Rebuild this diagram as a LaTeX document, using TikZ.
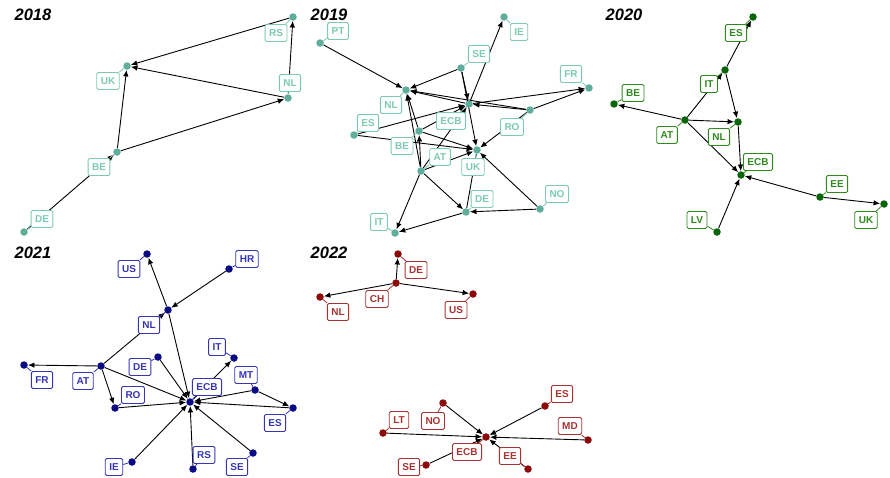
\documentclass[tikz,border=0pt]{standalone}
\usepackage{fontspec}
\setmainfont{Liberation Sans}
\usetikzlibrary{arrows.meta,backgrounds}

\definecolor{tealdot}{HTML}{5FAE9C}
\definecolor{teallab}{HTML}{7CC9B4}
\definecolor{grndot}{HTML}{0A650A}
\definecolor{grnlab}{HTML}{2F8A1E}
\definecolor{navdot}{HTML}{0A0A85}
\definecolor{navlab}{HTML}{3535B5}
\definecolor{reddot}{HTML}{8B0A0A}
\definecolor{redlab}{HTML}{A83232}

\begin{document}
\begin{tikzpicture}[x=1pt,y=-1pt,
    cdot/.style={circle,fill=#1,inner sep=0pt,minimum size=7.5pt},
    lab/.style={draw=#1,text=#1,fill=white,rounded corners=1.5pt,line width=0.9pt,
      font=\bfseries\fontsize{10}{10}\selectfont,inner xsep=4pt,inner ysep=2pt,
      text height=7.2pt,text depth=0pt,minimum height=17pt},
    lead/.style={draw=#1,line width=0.8pt},
    arr/.style={-{Latex[length=6.5pt,width=5.5pt]},line width=0.9pt},
    yr/.style={font=\bfseries\itshape\fontsize{16.5}{16.5}\selectfont}]
  \useasboundingbox (0,0) rectangle (890,477);

  % years
  \foreach \n/\t/\x/\y in {t18/2018/33/15, t19/2019/329/15, t20/2020/624/15,
                            t21/2021/33/253, t22/2022/329/253}
    \node[yr] (\n) at (\x,\y) {\t};

  % 2018
  \def\dc{tealdot}\def\lc{teallab}
  \foreach \n/\t/\x/\y/\lx/\ly in {uk18/UK/127/66/108/81, rs18/RS/293/17/276/33,
      nl18/NL/288/98/290/83, be18/BE/117/152/99/167, de18/DE/24/232/42/219}{
    \node[cdot=\dc] (\n) at (\x,\y) {};
    \node[lab=\lc] (\n-l) at (\lx,\ly) {\t};
    \draw[lead=\lc] (\n) -- (\n-l);
  }

  % 2019
  \foreach \n/\t/\x/\y/\lx/\ly in {pt19/PT/320/43/338/31, ie19/IE/504/17/519/32,
      se19/SE/461/68/479/54, fr19/FR/589/88/571/74, nl19/NL/406/90/391/105,
      ecb19/ECB/469/104/451/121, ro19/RO/530/110/512/127, es19/ES/354/135/368/123,
      be19/BE/419/131/402/146, at19/AT/421/171/440/157, uk19/UK/477/150/473/167,
      de19/DE/466/212/482/199, no19/NO/540/209/557/194, it19/IT/395/233/379/222}{
    \node[cdot=\dc] (\n) at (\x,\y) {};
    \node[lab=\lc] (\n-l) at (\lx,\ly) {\t};
    \draw[lead=\lc] (\n) -- (\n-l);
  }

  % 2020
  \def\dc{grndot}\def\lc{grnlab}
  \foreach \n/\t/\x/\y/\lx/\ly in {es20/ES/753/17/736/33, it20/IT/725/70/709/84,
      be20/BE/614/104/633/93, at20/AT/685/120/667/135, nl20/NL/738/122/719/137,
      ecb20/ECB/741/175/758/162, ee20/EE/820/197/837/184, uk20/UK/884/204/866/220,
      lv20/LV/717/232/697/220}{
    \node[cdot=\dc] (\n) at (\x,\y) {};
    \node[lab=\lc] (\n-l) at (\lx,\ly) {\t};
    \draw[lead=\lc] (\n) -- (\n-l);
  }

  % 2021
  \def\dc{navdot}\def\lc{navlab}
  \foreach \n/\t/\x/\y/\lx/\ly in {us21/US/147/254/129/269, hr21/HR/229/269/247/259,
      nl21/NL/168/310/149/325, it21/IT/234/358/217/347, de21/DE/158/357/140/367,
      fr21/FR/24/365/42/380, at21/AT/101/366/83/381, mt21/MT/255/390/246/375,
      ecb21/ECB/190/402/207/387, ro21/RO/115/408/133/395, es21/ES/293/408/275/423,
      ie21/IE/132/462/114/467, rs21/RS/193/469/204/455, se21/SE/253/453/237/467}{
    \node[cdot=\dc] (\n) at (\x,\y) {};
    \node[lab=\lc] (\n-l) at (\lx,\ly) {\t};
    \draw[lead=\lc] (\n) -- (\n-l);
  }

  % 2022
  \def\dc{reddot}\def\lc{redlab}
  \foreach \n/\t/\x/\y/\lx/\ly in {de22/DE/398/254/416/270, ch22/CH/396/283/377/299,
      nl22/NL/320/297/338/312, us22/US/473/294/456/310, es22/ES/545/406/562/394,
      lt22/LT/383/433/399/420, no22/NO/443/403/433/421, ecb22/ECB/486/437/467/452,
      md22/MD/588/440/570/426, se22/SE/426/465/409/467, ee22/EE/528/469/510/456}{
    \node[cdot=\dc] (\n) at (\x,\y) {};
    \node[lab=\lc] (\n-l) at (\lx,\ly) {\t};
    \draw[lead=\lc] (\n) -- (\n-l);
  }

  % links
  \begin{scope}[on background layer]
    \foreach \a/\b in {rs18/uk18, nl18/uk18, be18/uk18, be18/nl18, nl18/rs18, de18/be18,
        pt19/nl19, se19/nl19, se19/ecb19, se19/uk19, ecb19/ie19, ecb19/nl19, ro19/nl19,
        ecb19/fr19, ro19/fr19, ro19/ecb19, ro19/uk19, es19/ecb19, es19/uk19, be19/ecb19,
        be19/nl19, be19/uk19, at19/nl19, at19/be19, at19/ecb19, at19/uk19, at19/it19,
        at19/de19, no19/uk19, no19/de19, de19/it19,
        it20/es20, it20/nl20, at20/it20, at20/be20, at20/nl20, at20/ecb20, nl20/ecb20,
        ee20/ecb20, ee20/uk20, lv20/ecb20,
        nl21/us21, hr21/nl21, at21/nl21, nl21/ecb21, at21/fr21, at21/ro21, at21/ecb21,
        de21/ecb21, ro21/ecb21, ecb21/it21, mt21/ecb21, mt21/es21, es21/ecb21,
        ie21/ecb21, rs21/ecb21, se21/ecb21,
        ch22/de22, ch22/nl22, ch22/us22, lt22/ecb22, no22/ecb22, es22/ecb22,
        md22/ecb22, ee22/ecb22, se22/ecb22}
      \draw[arr] (\a) -- (\b);
    \draw[line width=0.9pt] (de19) -- (uk19);
  \end{scope}
\end{tikzpicture}
\end{document}
